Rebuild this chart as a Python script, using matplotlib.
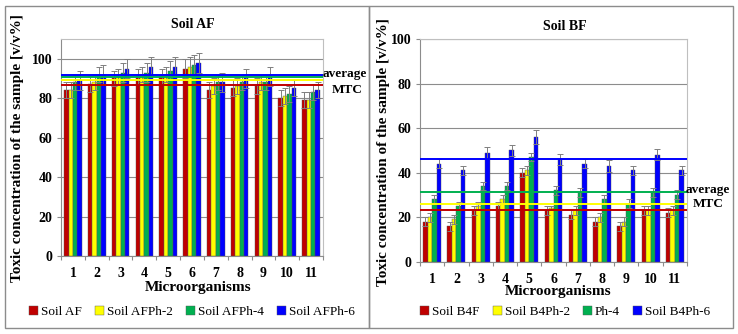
# Toxic concentration of the sample, soils AF and BF
import matplotlib.pyplot as plt
import numpy as np
from matplotlib.patches import Rectangle

plt.rcParams['font.family'] = ['Liberation Serif', 'DejaVu Serif']

groups = ['1', '2', '3', '4', '5', '6', '7', '8', '9', '10', '11']
colors = ['#C00000', '#FFFF00', '#00B050', '#0000FF']

# Soil AF
af_labels = ['Soil AF', 'Soil AFPh-2', 'Soil AFPh-4', 'Soil AFPh-6']
af_vals = [
    [84, 87, 90, 91, 91, 95, 84, 85, 86, 80, 79],
    [84, 88, 91, 92, 92, 96, 86, 86, 88, 81, 79],
    [88, 92, 93, 93, 94, 97, 88, 88, 88, 82, 83],
    [89, 92, 95, 96, 96, 98, 88, 90, 91, 85, 84],
]
af_err = [
    [4, 4, 4, 4, 4, 5, 4, 4, 4, 4, 4],
    [4, 4, 4, 4, 4, 5, 4, 4, 4, 4, 4],
    [4, 4, 5, 5, 5, 5, 4, 4, 4, 4, 4],
    [5, 5, 5, 5, 5, 5, 5, 5, 5, 4, 4],
]
af_mtc = [86.8, 89.0, 90.6, 92.0]

# Soil BF
bf_labels = ['Soil B4F', 'Soil B4Ph-2', 'Ph-4', 'Soil B4Ph-6']
bf_vals = [
    [18, 16, 23, 25, 40, 23, 21, 18, 16, 23, 22],
    [20, 19, 25, 28, 41, 24, 23, 20, 18, 23, 23],
    [28, 25, 34, 34, 47, 32, 31, 28, 26, 31, 30],
    [44, 41, 49, 50, 56, 46, 44, 43, 41, 48, 41],
]
bf_err = [
    [2, 2, 2, 2, 2, 2, 2, 2, 2, 2, 2],
    [2, 2, 2, 2, 2, 1, 2, 2, 2, 2, 2],
    [2, 2, 2, 2, 2, 2, 2, 2, 2, 2, 2],
    [2, 2, 2.5, 2.5, 3, 2.5, 2, 2.5, 2, 2.5, 2],
]
bf_mtc = [23.2, 25.8, 31.2, 46.0]

W, H = 738, 334
fig = plt.figure(figsize=(W / 100, H / 100), dpi=100)

# panel frames
for x0, x1 in [(5, 369), (369, 733)]:
    fig.patches.append(Rectangle((x0 / W, 1 - 328 / H), (x1 - x0) / W, (328 - 6) / H,
                                 transform=fig.transFigure, fill=False,
                                 edgecolor='#8c8c8c', lw=1.0))


def panel(rect, vals, errs, mtc, labels, ymax, yticks):
    ax = fig.add_axes(rect)
    x = np.arange(len(groups))
    bw = 0.185
    for i in range(4):
        ax.bar(x + (i - 1.5) * bw, vals[i], bw, color=colors[i],
               edgecolor='#555555', lw=0.3, label=labels[i], zorder=3)
        ax.errorbar(x + (i - 1.5) * bw, vals[i], yerr=errs[i], fmt='none',
                    ecolor='#7f7f7f', elinewidth=0.7, capsize=2.2, capthick=0.7, zorder=4)
    for i in range(4):
        ax.axhline(mtc[i], color=colors[i], lw=1.4, zorder=5)
    ax.set_xlim(-0.5, len(groups) - 0.5)
    ax.set_ylim(0, ymax)
    ax.set_yticks(yticks)
    ax.set_yticklabels([str(v) for v in yticks], fontweight='bold', fontsize=10)
    ax.set_xticks(np.arange(len(groups) + 1) - 0.5)
    ax.set_xticklabels([])
    ax.set_xticks(x, minor=True)
    ax.set_xticklabels(groups, minor=True, fontweight='bold', fontsize=10)
    ax.tick_params(axis='x', which='major', length=3, color='#8c8c8c', direction='out')
    ax.tick_params(axis='x', which='minor', length=0, pad=8)
    ax.tick_params(axis='y', length=3, color='#8c8c8c', pad=3)
    ax.yaxis.grid(True, color='#8c8c8c', lw=0.8, zorder=0)
    for s in ['top', 'right']:
        ax.spines[s].set_color('#bfbfbf')
    for s in ['left', 'bottom']:
        ax.spines[s].set_color('#8c8c8c')
    return ax


ax1 = panel([61 / W, 1 - 256 / H, 262 / W, 217 / H], af_vals, af_err, af_mtc,
            af_labels, 110, [0, 20, 40, 60, 80, 100])
ax2 = panel([420 / W, 1 - 261.7 / H, 267 / W, 222.7 / H], bf_vals, bf_err, bf_mtc,
            bf_labels, 100, [0, 20, 40, 60, 80, 100])

bold = dict(fontweight='bold', ha='center', va='center')
fig.text(193 / W, 1 - 24 / H, 'Soil AF', fontsize=10, **bold)
fig.text(565 / W, 1 - 26 / H, 'Soil BF', fontsize=10, **bold)
fig.text(198 / W, 1 - 287 / H, 'Microorganisms', fontsize=11, **bold)
fig.text(558 / W, 1 - 291 / H, 'Microorganisms', fontsize=11, **bold)
fig.text(18 / W, 1 - 148 / H, 'Toxic concentration of the sample [v/v%]',
         fontsize=11, rotation=90, **bold)
fig.text(383 / W, 1 - 152 / H, 'Toxic concentration of the sample [v/v%]',
         fontsize=11, rotation=90, **bold)
fig.text(345 / W, 1 - 74 / H, 'average', fontsize=9.5, **bold)
fig.text(347 / W, 1 - 90 / H, 'MTC', fontsize=9.5, **bold)
fig.text(708 / W, 1 - 190 / H, 'average', fontsize=9.5, **bold)
fig.text(708 / W, 1 - 204 / H, 'MTC', fontsize=9.5, **bold)

for ax, cx, cy in [(ax1, 192, 312), (ax2, 565, 312)]:
    h, l = ax.get_legend_handles_labels()
    fig.legend(h, l, loc='center', bbox_to_anchor=(cx / W, 1 - cy / H), ncol=4,
               frameon=False, fontsize=9.5, handlelength=0.7, handleheight=0.7,
               handletextpad=0.2, columnspacing=1.0, borderpad=0)

fig.savefig('out.png', dpi=100)
